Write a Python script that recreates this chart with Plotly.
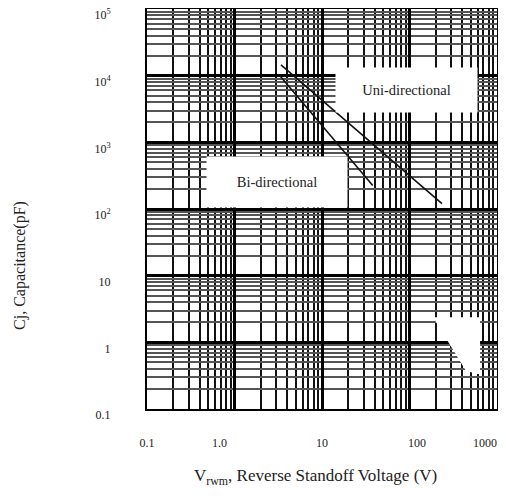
import plotly.graph_objects as go

# ---- data ----
uni_v = [3.4, 235]
uni_c = [14500, 120]
bi_v = [3.3, 38]
bi_c = [10000, 225]

NB = "&nbsp;"
x_tick_vals = [0.1, 1, 10, 100, 1000]
x_tick_text = ["0.1", "1.0" + NB * 10, "10", NB * 5 + "100", "1000" + NB * 8]
y_tick_vals = [0.1, 1, 10, 100, 1000, 10000, 100000]
y_tick_text = ["0.1", "1", "10", "10<sup>2</sup>", "10<sup>3</sup>", "10<sup>4</sup>", "10<sup>5</sup>"]

# white patch (lower right, artifact of the original)
patch_v = [186, 640, 640, 443, 186]
patch_c = [2.37, 2.37, 0.33, 0.37, 2.37]

label_uni = "Uni-directional"
label_bi = "Bi-directional"
x_title = "V<sub>rwm</sub>, Reverse Standoff Voltage (V)"
y_title = "Cj, Capacitance(pF)"

x_minor = [m * 10 ** e for e in range(-1, 3) for m in range(2, 10)]
y_minor = [m * 10 ** e for e in range(-1, 5) for m in range(2, 10)]

FONT = "Liberation Serif, Times New Roman, serif"
TXT = "#222222"

fig = go.Figure()
fig.add_trace(go.Scatter(x=patch_v, y=patch_c, mode="lines", fill="toself",
                         fillcolor="white", line=dict(color="white", width=0),
                         hoverinfo="skip", showlegend=False))
fig.add_trace(go.Scatter(x=uni_v, y=uni_c, mode="lines",
                         line=dict(color="#111111", width=1.6), showlegend=False))
fig.add_trace(go.Scatter(x=bi_v, y=bi_c, mode="lines",
                         line=dict(color="#111111", width=1.6), showlegend=False))

fig.add_annotation(x=1.971, y=3.787, xref="x", yref="y", text=label_uni,
                   showarrow=False, bgcolor="white", width=141, height=44,
                   borderpad=0, font=dict(family=FONT, size=14.5, color=TXT))
fig.add_annotation(x=0.486, y=2.41, xref="x", yref="y", text=label_bi,
                   showarrow=False, bgcolor="white", width=140, height=50,
                   borderpad=0, font=dict(family=FONT, size=14.5, color=TXT))
fig.add_annotation(x=0.48, y=-0.17, xref="paper", yref="paper", text=x_title,
                   showarrow=False, xanchor="center", yanchor="middle",
                   font=dict(family=FONT, size=17, color=TXT))
fig.add_annotation(x=-0.363, y=0.36, xref="paper", yref="paper", text=y_title,
                   showarrow=False, xanchor="center", yanchor="middle", textangle=-90,
                   font=dict(family=FONT, size=16, color=TXT))

fig.update_xaxes(type="log", range=[-1, 3], tickmode="array",
                 tickvals=x_tick_vals, ticktext=x_tick_text,
                 showgrid=True, gridcolor="black", gridwidth=2.5,
                 minor=dict(tickmode="array", tickvals=x_minor, showgrid=True,
                            gridcolor="#111111", gridwidth=2, ticks=""),
                 showline=True, linecolor="black", linewidth=2, mirror=True,
                 ticks="", ticklabelstandoff=22, zeroline=False,
                 ticklabeloverflow="allow",
                 tickfont=dict(family=FONT, size=12, color=TXT))
fig.update_yaxes(type="log", range=[-1, 5], tickmode="array",
                 tickvals=y_tick_vals, ticktext=y_tick_text,
                 showgrid=True, gridcolor="black", gridwidth=2.5,
                 minor=dict(tickmode="array", tickvals=y_minor, showgrid=True,
                            gridcolor="#555555", gridwidth=1.6, ticks=""),
                 showline=True, linecolor="black", linewidth=2, mirror=True,
                 ticks="", ticklabelstandoff=32, ticklabelshift=6, zeroline=False,
                 ticklabeloverflow="allow",
                 tickfont=dict(family=FONT, size=12, color=TXT))

fig.update_layout(width=498, height=484, autosize=False,
                  margin=dict(l=139, r=9, t=1, b=83, autoexpand=False),
                  plot_bgcolor="white", paper_bgcolor="white", showlegend=False)

fig.write_html("out.html")
